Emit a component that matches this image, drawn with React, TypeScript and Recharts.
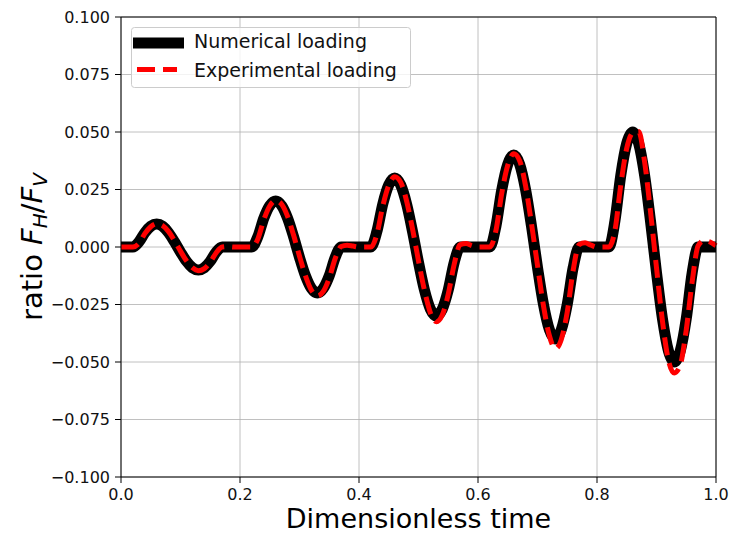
import { LineChart, Line, XAxis, YAxis, CartesianGrid, ReferenceLine } from 'recharts'

const time = [
  0.0, 0.01, 0.02, 0.03, 0.04, 0.05, 0.06, 0.07, 0.08, 0.09,
  0.1, 0.11, 0.12, 0.13, 0.14, 0.15, 0.16, 0.17, 0.18, 0.19,
  0.2, 0.21, 0.22, 0.23, 0.24, 0.25, 0.26, 0.27, 0.28, 0.29,
  0.3, 0.31, 0.32, 0.33, 0.34, 0.35, 0.36, 0.37, 0.38, 0.39,
  0.4, 0.41, 0.42, 0.43, 0.44, 0.45, 0.46, 0.47, 0.48, 0.49,
  0.5, 0.51, 0.52, 0.53, 0.54, 0.55, 0.56, 0.57, 0.58, 0.59,
  0.6, 0.61, 0.62, 0.63, 0.64, 0.65, 0.66, 0.67, 0.68, 0.69,
  0.7, 0.71, 0.72, 0.73, 0.74, 0.75, 0.76, 0.77, 0.78, 0.79,
  0.8, 0.81, 0.82, 0.83, 0.84, 0.85, 0.86, 0.87, 0.88, 0.89,
  0.9, 0.91, 0.92, 0.93, 0.94, 0.95, 0.96, 0.97, 0.98, 0.99,
  1.0,
]

// black thick curve
const numerical = [
  0, 0, 0,
  0.0022, 0.0062, 0.009, 0.01, 0.009, 0.0062, 0.0022, -0.0022, -0.0062, -0.009, -0.01, -0.009, -0.0062, -0.0022,
  0, 0, 0, 0, 0, 0,
  0.0045, 0.0125, 0.018, 0.02, 0.018, 0.0125, 0.0045, -0.0045, -0.0125, -0.018, -0.02, -0.018, -0.0125, -0.0045,
  0, 0, 0, 0, 0, 0,
  0.0067, 0.0187, 0.027, 0.03, 0.027, 0.0187, 0.0067, -0.0067, -0.0187, -0.027, -0.03, -0.027, -0.0187, -0.0067,
  0, 0, 0, 0, 0, 0,
  0.0089, 0.0249, 0.036, 0.04, 0.036, 0.0249, 0.0089, -0.0089, -0.0249, -0.036, -0.04, -0.036, -0.0249, -0.0089,
  0, 0, 0, 0, 0, 0,
  0.0111, 0.0312, 0.0451, 0.05, 0.0451, 0.0312, 0.0111, -0.0111, -0.0312, -0.0451, -0.05, -0.0451, -0.0312, -0.0111,
  0, 0, 0, 0,
]

// red dashed curve
const experimental = [
  0, 0, 0,
  0.0015, 0.0058, 0.0088, 0.0101, 0.0093, 0.0067, 0.0027, -0.0018, -0.006, -0.009, -0.0103, -0.0094, -0.0066, -0.0025,
  0, 0.0002, 0, 0, 0, 0,
  0.0035, 0.0118, 0.0178, 0.0202, 0.0186, 0.0133, 0.0052, -0.004, -0.0125, -0.0188, -0.0213, -0.0193, -0.0135, -0.005,
  0.0002, 0.0008, 0.0004, 0, 0, 0,
  0.0055, 0.0178, 0.0268, 0.0305, 0.0282, 0.02, 0.0078, -0.006, -0.0188, -0.0286, -0.0325, -0.0296, -0.0205, -0.0075,
  0.001, 0.0015, 0.0006, 0, 0, 0,
  0.007, 0.0235, 0.0355, 0.0405, 0.0375, 0.0265, 0.01, -0.008, -0.0255, -0.0386, -0.0442, -0.0402, -0.0282, -0.01,
  0.001, 0.0018, 0.0008, 0, 0, 0,
  0.007, 0.027, 0.043, 0.0496, 0.0502, 0.037, 0.0152, -0.009, -0.0322, -0.0492, -0.0548, -0.0512, -0.036, -0.015,
  0.0005, 0.0028, 0.0022, 0.0005,
]

const xTicks = [0, 0.2, 0.4, 0.6, 0.8, 1.0]
const yTicks = [-0.1, -0.075, -0.05, -0.025, 0, 0.025, 0.05, 0.075, 0.1]
const seriesNames = ['Numerical loading', 'Experimental loading']
const xTitle = 'Dimensionless time'

const data = time.map((t, i) => ({ t, num: numerical[i], exp: experimental[i] }))

const font = '"DejaVu Sans", sans-serif'
const tickStyle = { fontSize: 16, fontFamily: font, fill: '#111' }

function XTitle(props: any) {
  const vb = props.viewBox || { x: 121, y: 477, width: 595, height: 58 }
  return (
    <text x={vb.x + vb.width / 2} y={vb.y + 51} textAnchor="middle" fontSize={27} fontFamily={font} fill="#000">
      {xTitle}
    </text>
  )
}

function YTitle(props: any) {
  const vb = props.viewBox || { x: 0, y: 17, width: 121, height: 460 }
  const cy = vb.y + vb.height / 2
  return (
    <text transform={`translate(42,${cy}) rotate(-90)`} textAnchor="middle" fontSize={29} fontFamily={font} fill="#000">
      <tspan>ratio </tspan>
      <tspan fontStyle="italic">F</tspan>
      <tspan fontStyle="italic" fontSize={20} dy={5}>H</tspan>
      <tspan dy={-5}>/</tspan>
      <tspan fontStyle="italic">F</tspan>
      <tspan fontStyle="italic" fontSize={20} dy={5}>V</tspan>
    </text>
  )
}

export default function App() {
  return (
    <div style={{ position: 'relative', width: 730, height: 535 }}>
      <style>{'body{margin:0}'}</style>
      <LineChart width={730} height={535} data={data} margin={{ top: 17, right: 14, bottom: 0, left: 0 }}>
        <CartesianGrid stroke="#b0b0b0" strokeWidth={0.8} />
        <XAxis
          dataKey="t"
          type="number"
          domain={[0, 1]}
          ticks={xTicks}
          tickFormatter={(v: number) => v.toFixed(1)}
          height={58}
          tickSize={6}
          tickMargin={6}
          tick={tickStyle}
          axisLine={{ stroke: '#000' }}
          tickLine={{ stroke: '#000' }}
          label={<XTitle />}
        />
        <YAxis
          type="number"
          domain={[-0.1, 0.1]}
          ticks={yTicks}
          tickFormatter={(v: number) => v.toFixed(3).replace('-', '\u2212')}
          width={121}
          tickSize={6}
          tickMargin={5}
          tick={tickStyle}
          axisLine={{ stroke: '#000' }}
          tickLine={{ stroke: '#000' }}
          label={<YTitle />}
        />
        <Line
          type="monotone"
          dataKey="num"
          name={seriesNames[0]}
          stroke="#000"
          strokeWidth={11}
          strokeLinejoin="round"
          dot={false}
          activeDot={false}
          isAnimationActive={false}
        />
        <Line
          type="monotone"
          dataKey="exp"
          name={seriesNames[1]}
          stroke="#ff0000"
          strokeWidth={5}
          strokeDasharray="18 8"
          dot={false}
          activeDot={false}
          isAnimationActive={false}
        />
        <ReferenceLine y={0.1} stroke="#000" strokeWidth={1} />
        <ReferenceLine x={1} stroke="#000" strokeWidth={1} />
      </LineChart>
      <svg width={730} height={535} style={{ position: 'absolute', left: 0, top: 0, pointerEvents: 'none' }}>
        <rect x={131.5} y={27.5} width={279} height={60} rx={3} fill="rgba(255,255,255,0.8)" stroke="#cccccc" />
        <line x1={138.5} y1={43} x2={178.5} y2={43} stroke="#000" strokeWidth={11} strokeLinecap="square" />
        <text x={194} y={48} fontSize={19} fontFamily={font} fill="#111">{seriesNames[0]}</text>
        <line x1={137} y1={69.5} x2={177} y2={69.5} stroke="#ff0000" strokeWidth={5} strokeDasharray="18 8" />
        <text x={194} y={77} fontSize={19} fontFamily={font} fill="#111">{seriesNames[1]}</text>
      </svg>
    </div>
  )
}
